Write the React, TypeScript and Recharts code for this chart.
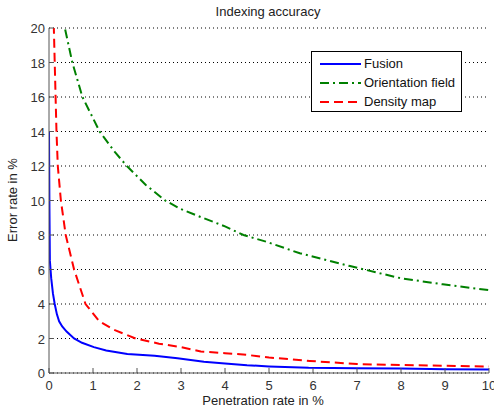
import { CartesianGrid, Line, LineChart, XAxis, YAxis } from "recharts";

const xTicks = [0, 1, 2, 3, 4, 5, 6, 7, 8, 9, 10];
const yTicks = [0, 2, 4, 6, 8, 10, 12, 14, 16, 18, 20];

const fusionX = [0, 0.01, 0.02, 0.05, 0.09, 0.13, 0.18, 0.23, 0.3, 0.4, 0.57, 0.75, 1.02, 1.3, 1.78, 2.4, 2.92, 3.52, 4, 4.5, 5, 5.9, 7, 8, 9, 10];
const fusionY = [14, 9.5, 6.5, 5.5, 4.6, 4, 3.4, 3, 2.7, 2.4, 2, 1.75, 1.5, 1.3, 1.1, 1.0, 0.85, 0.65, 0.55, 0.45, 0.38, 0.3, 0.28, 0.26, 0.22, 0.2];

const orientX = [0.3, 0.36, 0.53, 0.76, 1.15, 1.5, 1.77, 2.2, 2.64, 3, 3.43, 4, 4.42, 4.95, 5.7, 6.84, 7.98, 8.95, 10];
const orientY = [21, 20, 18, 16, 14, 12.8, 12, 10.9, 10, 9.5, 9.06, 8.5, 8, 7.6, 6.94, 6.2, 5.5, 5.14, 4.8];

const densityX = [0.1, 0.11, 0.17, 0.2, 0.27, 0.38, 0.57, 0.83, 1.14, 1.48, 1.97, 2.5, 3.0, 3.45, 4, 4.5, 5, 5.93, 7, 8, 9, 10];
const densityY = [21, 20, 14, 12, 10, 8, 6, 4, 3, 2.5, 2, 1.7, 1.5, 1.25, 1.15, 1.05, 0.9, 0.7, 0.52, 0.46, 0.42, 0.37];

const toPoints = (xs: number[], ys: number[]) => xs.map((x, i) => ({ x, y: ys[i] }));

const series = [
  { name: "Fusion", data: toPoints(fusionX, fusionY), color: "#0000ff", dash: undefined },
  { name: "Orientation field", data: toPoints(orientX, orientY), color: "#008000", dash: "9 4 2 4" },
  { name: "Density map", data: toPoints(densityX, densityY), color: "#ff0000", dash: "9 5" },
];

const FONT = "'Liberation Sans', Arial, sans-serif";
const AXIS = "#555";

const BottomTick = ({ x, y, payload }: any) => (
  <g>
    <line x1={x} y1={y} x2={x} y2={y - 5} stroke={AXIS} />
    <text x={x} y={y + 17} textAnchor="middle" fontSize={13} fill="#333" fontFamily={FONT}>
      {payload.value}
    </text>
  </g>
);

const TopTick = ({ x, y }: any) => <line x1={x} y1={y} x2={x} y2={y + 5} stroke={AXIS} />;

const LeftTick = ({ x, y, payload }: any) => (
  <g>
    <line x1={x} y1={y} x2={x + 5} y2={y} stroke={AXIS} />
    <text x={x - 4} y={y + 5} textAnchor="end" fontSize={13} fill="#333" fontFamily={FONT}>
      {payload.value}
    </text>
  </g>
);

const RightTick = ({ x, y }: any) => <line x1={x} y1={y} x2={x - 5} y2={y} stroke={AXIS} />;

const LegendBox = () => (
  <div
    style={{
      position: "absolute",
      left: 311,
      top: 51,
      width: 149,
      height: 57,
      border: "1px solid #000",
      background: "#fff",
      fontFamily: FONT,
      fontSize: 13,
      color: "#111",
      paddingTop: 2,
      zIndex: 2,
    }}
  >
    {series.map((s) => (
      <div key={s.name} style={{ display: "flex", alignItems: "center", height: 19 }}>
        <svg width={52} height={10}>
          <line x1={8} y1={5} x2={49} y2={5} stroke={s.color} strokeWidth={2} strokeDasharray={s.dash} />
        </svg>
        <span>{s.name}</span>
      </div>
    ))}
  </div>
);

export default function App() {
  return (
    <div style={{ position: "absolute", left: 0, top: 0, width: 494, height: 411, background: "#fff" }}>
      <div
        style={{
          position: "absolute",
          left: 0,
          width: 536,
          top: 4,
          textAlign: "center",
          fontFamily: FONT,
          fontSize: 13,
          color: "#222",
        }}
      >
        Indexing accuracy
      </div>
      <div
        style={{
          position: "absolute",
          left: 12,
          top: 200,
          transform: "translate(-50%, -50%) rotate(-90deg)",
          whiteSpace: "nowrap",
          fontFamily: FONT,
          fontSize: 13,
          color: "#222",
        }}
      >
        Error rate in %
      </div>
      <div
        style={{
          position: "absolute",
          left: 0,
          width: 526,
          top: 393,
          textAlign: "center",
          fontFamily: FONT,
          fontSize: 13,
          color: "#222",
        }}
      >
        Penetration rate in %
      </div>
      <LegendBox />
      <LineChart width={494} height={411} margin={{ top: 28, right: 5, bottom: 0, left: 9 }}>
        <CartesianGrid vertical={false} stroke="#000" strokeDasharray="1 3" />
        <XAxis
          type="number"
          dataKey="x"
          domain={[0, 10]}
          ticks={xTicks}
          allowDataOverflow
          height={38}
          stroke={AXIS}
          tickLine={false}
          tickSize={0}
          tickMargin={0}
          tick={<BottomTick />}
          interval={0}
        />
        <XAxis
          xAxisId="top"
          orientation="top"
          type="number"
          dataKey="x"
          domain={[0, 10]}
          ticks={xTicks}
          allowDataOverflow
          height={0}
          stroke={AXIS}
          tickLine={false}
          tickSize={0}
          tickMargin={0}
          tick={<TopTick />}
          interval={0}
        />
        <YAxis
          type="number"
          domain={[0, 20]}
          ticks={yTicks}
          allowDataOverflow
          width={40}
          stroke={AXIS}
          tickLine={false}
          tickSize={0}
          tickMargin={0}
          tick={<LeftTick />}
          interval={0}
        />
        <YAxis
          yAxisId="right"
          orientation="right"
          type="number"
          domain={[0, 20]}
          ticks={yTicks}
          allowDataOverflow
          width={0}
          stroke={AXIS}
          tickLine={false}
          tickSize={0}
          tickMargin={0}
          tick={<RightTick />}
          interval={0}
        />
        {series.map((s) => (
          <Line
            key={s.name}
            name={s.name}
            data={s.data}
            dataKey="y"
            type="linear"
            stroke={s.color}
            strokeWidth={2}
            strokeDasharray={s.dash}
            dot={false}
            activeDot={false}
            isAnimationActive={false}
          />
        ))}
      </LineChart>
    </div>
  );
}
